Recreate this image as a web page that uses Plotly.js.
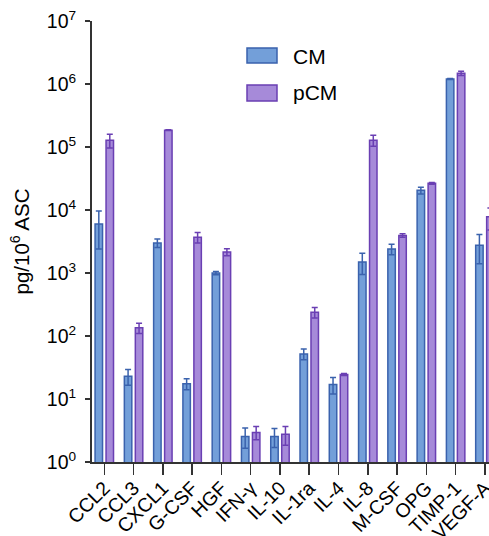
<!DOCTYPE html>
<html>
<head>
<meta charset="utf-8">
<script src="https://cdn.plot.ly/plotly-3.0.1.min.js"></script>
<style>html,body{margin:0;padding:0;background:#fff;}#chart{width:489px;height:536px;}</style>
</head>
<body>
<div id="chart"></div>
<script>
const categories = ["CCL2","CCL3","CXCL1","G-CSF","HGF","IFN-γ","IL-10","IL-1ra","IL-4","IL-8","M-CSF","OPG","TIMP-1","VEGF-A"];
const cmValues  = [6000, 23, 3000, 17.5, 1000, 2.55, 2.55, 52, 17, 1500, 2400, 20500, 1200000, 2750];
const cmErrors  = [3600, 6.5, 450, 3.5, 60, 0.9, 0.85, 10, 5, 550, 450, 2500, 20000, 1350];
const pcmValues = [128000, 135, 185000, 3700, 2150, 2.95, 2.75, 238, 24.5, 128000, 3950, 26500, 1480000, 7800];
const pcmErrors = [32000, 25, 2000, 700, 280, 0.7, 0.9, 45, 1, 25000, 250, 800, 120000, 3000];
const seriesNames = ["CM", "pCM"];
const yTickVals = [1, 10, 100, 1000, 10000, 100000, 1000000, 10000000];
const yTickText = ["10<sup>0</sup>","10<sup>1</sup>","10<sup>2</sup>","10<sup>3</sup>","10<sup>4</sup>","10<sup>5</sup>","10<sup>6</sup>","10<sup>7</sup>"];

const blueFill = "#739fd9", blueEdge = "#3a62ad";
const purpFill = "#a68ad9", purpEdge = "#6a3fb3";
const font = "Liberation Sans, Arial, sans-serif";

const traces = [
  {type:"bar", name:seriesNames[0], x:categories, y:cmValues,
   marker:{color:blueFill, line:{color:blueEdge, width:1.5}},
   error_y:{type:"data", array:cmErrors, visible:true, color:blueEdge, thickness:1.5, width:3}},
  {type:"bar", name:seriesNames[1], x:categories, y:pcmValues,
   marker:{color:purpFill, line:{color:purpEdge, width:1.5}},
   error_y:{type:"data", array:pcmErrors, visible:true, color:purpEdge, thickness:1.5, width:3}}
];

const layout = {
  width:489, height:536,
  margin:{l:92, r:0, t:21, b:74},
  paper_bgcolor:"#fff", plot_bgcolor:"#fff",
  showlegend:false,
  barmode:"group", bargap:0.25, bargroupgap:0.32,
  font:{family:font, color:"#000"},
  xaxis:{type:"category", range:[-0.42, 13.14], showline:true, linecolor:"#333", linewidth:2,
         ticks:"outside", ticklen:11, tickwidth:1.5, tickcolor:"#333", ticklabelstandoff:-6,
         tickangle:-45, tickfont:{size:19.5, family:font, color:"#000"}, showgrid:false, zeroline:false},
  yaxis:{type:"log", range:[0,7], showline:true, linecolor:"#333", linewidth:2,
         ticks:"outside", ticklen:5, tickwidth:1.5, tickcolor:"#333", ticklabelstandoff:5,
         tickvals:yTickVals, ticktext:yTickText, tickfont:{size:19.5, family:font, color:"#000"},
         showgrid:false, zeroline:false,
         title:{text:"pg/10<sup>6</sup> ASC", font:{size:20.5, family:font, color:"#000"}, standoff:12}},
  shapes:[
    {type:"rect", xref:"paper", yref:"paper", x0:(247-92)/397, x1:(277-92)/397, y0:(462-63)/441, y1:(462-48)/441,
     fillcolor:blueFill, line:{color:blueEdge, width:1.5}},
    {type:"rect", xref:"paper", yref:"paper", x0:(247-92)/397, x1:(277-92)/397, y0:(462-101)/441, y1:(462-85)/441,
     fillcolor:purpFill, line:{color:purpEdge, width:1.5}}
  ],
  annotations:[
    {xref:"paper", yref:"paper", x:(291-92)/397, y:(462-56)/441, xanchor:"left", yanchor:"middle", showarrow:false,
     text:seriesNames[0], font:{size:21, family:font, color:"#000"}},
    {xref:"paper", yref:"paper", x:(291-92)/397, y:(462-93)/441, xanchor:"left", yanchor:"middle", showarrow:false,
     text:seriesNames[1], font:{size:21, family:font, color:"#000"}}
  ]
};

Plotly.newPlot("chart", traces, layout, {displayModeBar:false, staticPlot:true});
</script>
</body>
</html>
